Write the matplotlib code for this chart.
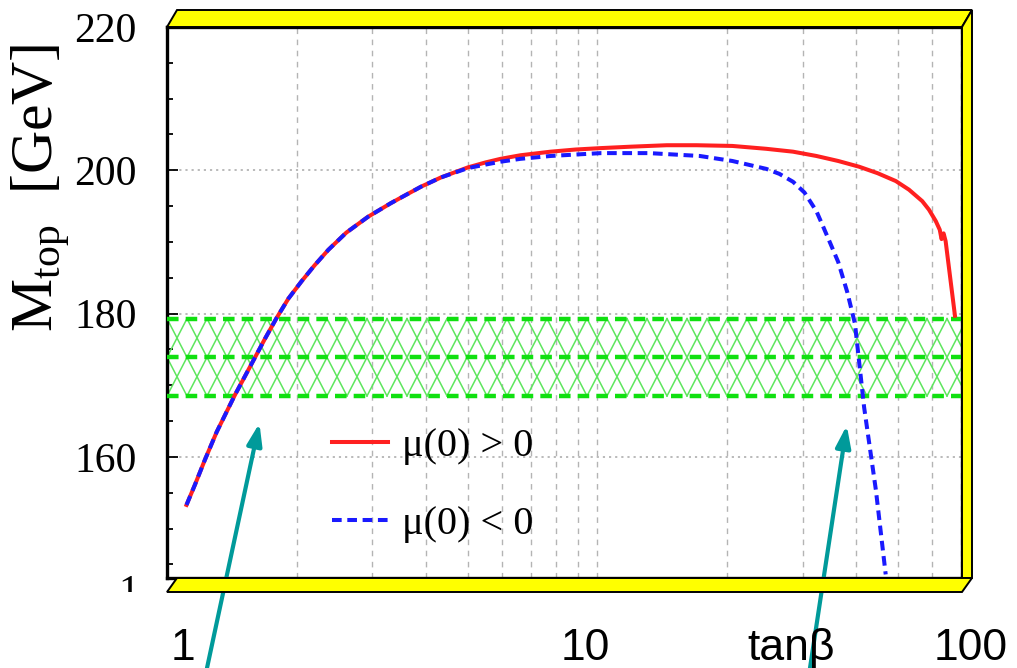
import numpy as np
import matplotlib
matplotlib.use("Agg")
import matplotlib.pyplot as plt
from matplotlib.patches import Polygon
from matplotlib.ticker import LogLocator, MultipleLocator, NullFormatter
from matplotlib.transforms import Bbox, TransformedBbox, blended_transform_factory

# top mass vs tan(beta), two signs of mu(0)
tb_pos = [1.11, 1.161, 1.225, 1.305, 1.437, 1.589, 1.686, 1.798, 1.915, 2.054, 2.2, 2.371,
          2.61, 2.93, 3.31, 3.50, 3.89, 4.33, 5.0, 5.5, 5.96, 6.63, 7.79, 8.9, 10.2, 12.0,
          14.5, 17.0, 20.6, 24.7, 28.5, 32.3, 36.3, 40.6, 44.8, 49.4, 53.0, 56.9, 59.0,
          61.2, 62.5, 63.1, 63.8, 64.5, 67.8]
mt_pos = [153.3, 156.1, 159.6, 163.5, 168.6, 173.5, 176.4, 179.4, 182.1, 184.5, 186.7, 188.9,
          191.3, 193.5, 195.4, 196.2, 197.7, 199.0, 200.4, 201.1, 201.6, 202.1, 202.6, 202.9,
          203.1, 203.3, 203.5, 203.5, 203.4, 203.0, 202.6, 202.0, 201.3, 200.5, 199.6, 198.5,
          197.3, 195.7, 194.5, 192.9, 191.7, 190.4, 191.2, 190.1, 179.7]

tb_neg = [1.11, 1.161, 1.225, 1.305, 1.437, 1.589, 1.686, 1.798, 1.915, 2.054, 2.2, 2.371,
          2.61, 2.93, 3.31, 3.50, 3.89, 4.33, 5.0, 5.5, 5.96, 6.63, 7.79, 8.9, 10.2, 13.2,
          17.3, 20.6, 24.7, 26.5, 28.5, 30.3, 32.3, 33.4, 34.8, 36.3, 38.1, 39.7, 41.7,
          44.4, 46.8]
mt_neg = [153.3, 156.1, 159.6, 163.5, 168.6, 173.5, 176.4, 179.4, 182.1, 184.5, 186.7, 188.9,
          191.3, 193.5, 195.4, 196.2, 197.7, 199.0, 200.3, 200.8, 201.2, 201.6, 202.0, 202.2,
          202.4, 202.4, 202.0, 201.3, 200.2, 199.5, 198.4, 196.9, 194.3, 192.3, 189.8, 187.2,
          183.0, 178.6, 166.9, 155.4, 143.6]

# measured top mass band
mt_exp = 173.9
mt_err = 5.4

yticks = [160, 180, 200, 220]
xlabels = ["1", "10", "tan\u03b2", "100"]

W, H = 1017, 668


def fpx(x, y):
    # pixel (from top-left) -> figure fraction
    return (x / W, 1 - y / H)


fig = plt.figure(figsize=(W / 100, H / 100), dpi=100)
ax = fig.add_axes([167 / W, 1 - 578 / H, 795 / W, 551 / H])
ax.set_xscale("log")
ax.set_xlim(1, 70.4)
ax.set_ylim(143.1, 220)

# hatched band
lo, hi = mt_exp - mt_err, mt_exp + mt_err
trans = blended_transform_factory(ax.transAxes, ax.transData)
p = 20 / 795
for k in range(-4, 46):
    x0 = k * p
    ax.plot([x0, x0 + 2 * p], [lo, hi], transform=trans, color="#5ee65e", lw=1.1, zorder=2)
    ax.plot([x0, x0 - 2 * p], [lo, hi], transform=trans, color="#5ee65e", lw=1.1, zorder=2)
for yy in (lo, mt_exp, hi):
    ax.axhline(yy, color="#10e010", lw=3.2, ls=(0, (2.6, 1.6)), zorder=3)

ax.plot(tb_pos, mt_pos, color="#ff2020", lw=2.9, zorder=4, label="\u03bc(0) > 0",
        solid_joinstyle="round")
ax.plot(tb_neg, mt_neg, color="#1a1aff", lw=2.9, ls=(0, (2.4, 1.4)), zorder=5,
        label="\u03bc(0) < 0")

# grid
ax.xaxis.set_minor_locator(LogLocator(base=10, subs=range(2, 10)))
ax.xaxis.set_minor_formatter(NullFormatter())
ax.grid(which="both", axis="x", color="#b4b4b4", lw=1.0, ls=(0, (4, 4)))
ax.set_yticks(yticks)
ax.yaxis.set_minor_locator(MultipleLocator(5))
ax.grid(which="major", axis="y", color="#b4b4b4", lw=1.3, ls=(0, (1.2, 2.2)))
ax.tick_params(axis="x", which="both", length=0, labelbottom=False)
ax.tick_params(axis="y", which="major", direction="in", length=8, width=1.3, pad=22,
               labelsize=30)
ax.tick_params(axis="y", which="minor", direction="in", length=4, width=1.3)
for lab in ax.get_yticklabels():
    lab.set_family("Liberation Serif")
for s in ax.spines.values():
    s.set_linewidth(2.4)
    s.set_color("black")

leg = ax.legend(loc="upper left", bbox_to_anchor=((332 - 167) / 795, (578 - 428) / 551),
                frameon=False, borderpad=0, borderaxespad=0, handlelength=1.4,
                handletextpad=0.35, labelspacing=1.0,
                prop={"family": "Liberation Serif", "size": 29})

# yellow frame
frame = [
    [(167, 27), (177, 10), (972, 10), (962, 27)],
    [(962, 27), (972, 10), (972, 578), (962, 578)],
    [(167, 592), (177, 578), (972, 578), (962, 592)],
]
for pts in frame:
    fig.add_artist(Polygon([fpx(*q) for q in pts], closed=True, transform=fig.transFigure,
                           facecolor="#ffff00", edgecolor="black", lw=1.4, zorder=10))

# axis title
fig.text(*fpx(41, 188), r"$\mathregular{M_{top}}$  [GeV]", rotation=90, ha="center",
         va="center", family="Liberation Serif", fontsize=43)

# partly hidden lower tick label
t1 = fig.text(*fpx(129, 574), "1", ha="center", va="top", family="Liberation Serif",
              fontsize=30)
t1.set_clip_box(TransformedBbox(Bbox([[0, 1 - 592 / H], [160 / W, 1]]), fig.transFigure))
t1.set_clip_on(True)

# x labels
for xc, s in zip([183, 585, 791, 971], xlabels):
    fig.text(*fpx(xc, 660), s, ha="center", va="baseline", family="Liberation Sans",
             fontsize=32)

# arrows to the band crossings
for tip, tail in [((1.64, 164.7), (207, 0)), ((38.0, 164.4), (810, 0))]:
    ax.annotate("", xy=tip, xycoords="data", xytext=tail, textcoords="figure pixels",
                annotation_clip=False,
                arrowprops=dict(arrowstyle="-|>,head_length=1.3,head_width=0.45",
                                color="#009a9a", lw=3, shrinkA=0, shrinkB=0),
                zorder=12)

fig.savefig("out.png", dpi=100)
